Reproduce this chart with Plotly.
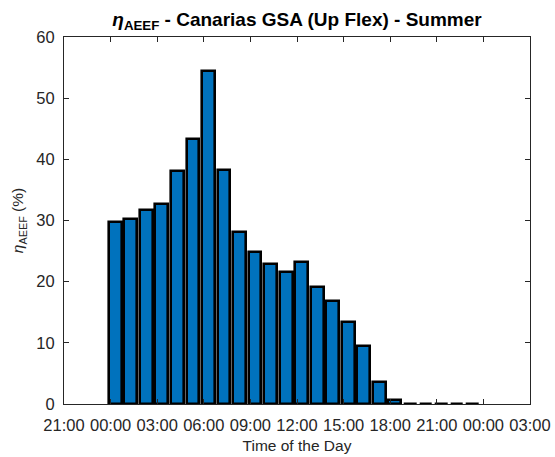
import plotly.graph_objects as go

hours = list(range(24))
eta_aeef = [29.8, 30.2, 31.7, 32.7, 38.1, 43.3, 54.5, 38.3, 28.2, 24.9, 22.9, 21.6,
            23.2, 19.2, 16.8, 13.4, 9.5, 3.6, 0.6, 0, 0, 0, 0, 0]
tick_vals = [-3, 0, 3, 6, 9, 12, 15, 18, 21, 24, 27]
tick_text = ["21:00", "00:00", "03:00", "06:00", "09:00", "12:00", "15:00",
             "18:00", "21:00", "00:00", "03:00"]
y_ticks = [0, 10, 20, 30, 40, 50, 60]

bar_offset = 0.3  # bars sit slightly after each hour mark in the original

fig = go.Figure(go.Bar(
    x=[h + bar_offset for h in hours],
    y=eta_aeef,
    width=0.82,
    cliponaxis=False,
    marker=dict(color="#0072BD", line=dict(color="black", width=2.6)),
))

FONT = "Liberation Sans, Arial, sans-serif"

axis_common = dict(
    showline=True, linecolor="#262626", linewidth=1, mirror="ticks",
    ticks="inside", ticklen=5, tickwidth=1, tickcolor="#262626",
    showgrid=False, zeroline=False, automargin=False,
    tickfont=dict(family=FONT, size=16.5, color="#262626"),
)

fig.update_layout(
    width=555, height=457,
    margin=dict(l=64, r=25, t=37, b=53, autoexpand=False),
    plot_bgcolor="white", paper_bgcolor="white",
    showlegend=False,
    bargap=0,
    font=dict(family=FONT, color="#262626"),
    title=dict(
        text="<b><i>η</i><sub>AEEF</sub> - Canarias GSA (Up Flex) - Summer</b>",
        x=(64 + 530) / 2 / 555,
        xanchor="center",
        y=1 - 19 / 457, yanchor="middle", yref="container",
        font=dict(family=FONT, size=19, color="black"),
    ),
    xaxis=dict(
        range=[-3, 27], tickvals=tick_vals, ticktext=tick_text,
        ticklabelstandoff=6,
        title=dict(text="Time of the Day", standoff=7,
                   font=dict(family=FONT, size=15.5, color="#262626")),
        **axis_common,
    ),
    yaxis=dict(
        range=[0, 60], tickvals=y_ticks,
        ticklabelstandoff=5,
        title=dict(text="<i>η</i><sub>AEEF</sub> (%)", standoff=8,
                   font=dict(family=FONT, size=15.5, color="#262626")),
        **axis_common,
    ),
)

fig.write_html(
    "out.html",
    config={"displayModeBar": False},
    post_script="document.body.style.margin='0px';document.body.style.overflow='hidden';",
)
